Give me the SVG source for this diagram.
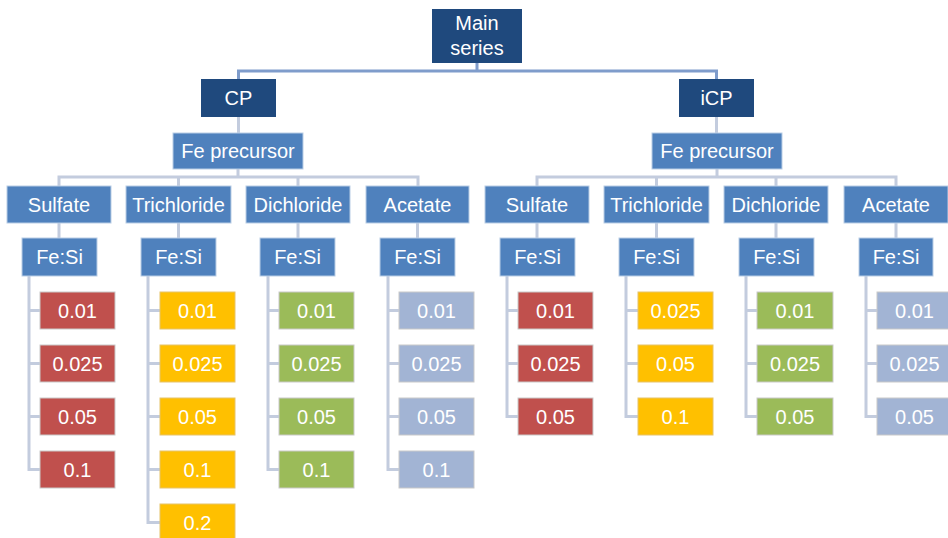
<svg xmlns="http://www.w3.org/2000/svg" width="948" height="538" viewBox="0 0 948 538">
<style>
text{font-family:"Liberation Sans",Arial,sans-serif;font-size:20px;fill:#fff;text-anchor:middle;dominant-baseline:central}
.dk{fill:#1F497D}
.md{fill:#4F81BD;stroke:#B9CDE5;stroke-width:1}
.r{fill:#C0504D;stroke:#C9C9C9;stroke-width:1}
.y{fill:#FFC000;stroke:#E6C36B;stroke-width:1}
.g{fill:#9BBB59;stroke:#C9C9C9;stroke-width:1}
.lb{fill:#A2B4D4;stroke:#C9C9C9;stroke-width:1}
.c1{fill:none;stroke:#7F9CCB;stroke-width:3}
.c2{fill:none;stroke:#C3CCDE;stroke-width:3}
</style>
<rect width="948" height="538" fill="#fff"/>
<g id="connectors">
<path class="c1" d="M477,63V71M238.5,79V71H716.5V79"/>
<path class="c2" d="M238.5,117V133M716.5,117V133"/>
<path class="c2" d="M238,169V177M59,186V177H418V186M178.5,177V186M298,177V186"/>
<path class="c2" d="M717,169V177M537,186V177H896V186M656.5,177V186M776,177V186"/>
<path class="c2" d="M59,223V238M178.5,223V238M298,223V238M417.5,223V238"/>
<path class="c2" d="M537,223V238M656.5,223V238M776,223V238M896,223V238"/>
<path class="c2" d="M29,276V469.5H40M29,310.5H40M29,363.5H40M29,416.5H40"/>
<path class="c2" d="M148,276V522.5H160M148,310.5H160M148,363.5H160M148,416.5H160M148,469.5H160"/>
<path class="c2" d="M268,276V469.5H279M268,310.5H279M268,363.5H279M268,416.5H279"/>
<path class="c2" d="M388,276V469.5H399M388,310.5H399M388,363.5H399M388,416.5H399"/>
<path class="c2" d="M507,276V416.5H518M507,310.5H518M507,363.5H518"/>
<path class="c2" d="M626,276V416.5H638M626,310.5H638M626,363.5H638"/>
<path class="c2" d="M746,276V416.5H757M746,310.5H757M746,363.5H757"/>
<path class="c2" d="M866,276V416.5H877M866,310.5H877M866,363.5H877"/>
</g>
<g id="main"><rect class="dk" x="432" y="9" width="90" height="54"/><text x="477" y="23">Main</text><text x="477" y="48">series</text></g>
<g id="cp"><rect class="dk" x="201" y="79" width="75" height="38"/><text x="238.5" y="98">CP</text></g>
<g id="icp"><rect class="dk" x="679" y="79" width="75" height="38"/><text x="716.5" y="98">iCP</text></g>
<g id="prec-cp"><rect class="md" x="173" y="133" width="130" height="36"/><text x="238" y="151">Fe precursor</text></g>
<g id="prec-icp"><rect class="md" x="652" y="133" width="130" height="36"/><text x="717" y="151">Fe precursor</text></g>
<g id="cp-sulfate"><rect class="md" x="7" y="186" width="104" height="37"/><text x="59" y="204.5">Sulfate</text></g>
<g id="cp-trichloride"><rect class="md" x="126" y="186" width="105" height="37"/><text x="178.5" y="204.5">Trichloride</text></g>
<g id="cp-dichloride"><rect class="md" x="246" y="186" width="104" height="37"/><text x="298" y="204.5">Dichloride</text></g>
<g id="cp-acetate"><rect class="md" x="366" y="186" width="103" height="37"/><text x="417.5" y="204.5">Acetate</text></g>
<g id="icp-sulfate"><rect class="md" x="485" y="186" width="104" height="37"/><text x="537" y="204.5">Sulfate</text></g>
<g id="icp-trichloride"><rect class="md" x="604" y="186" width="105" height="37"/><text x="656.5" y="204.5">Trichloride</text></g>
<g id="icp-dichloride"><rect class="md" x="724" y="186" width="104" height="37"/><text x="776" y="204.5">Dichloride</text></g>
<g id="icp-acetate"><rect class="md" x="844" y="186" width="104" height="37"/><text x="896" y="204.5">Acetate</text></g>
<g id="cp-s-fesi"><rect class="md" x="22" y="238" width="75" height="38"/><text x="59.5" y="257">Fe:Si</text></g>
<g id="cp-t-fesi"><rect class="md" x="141" y="238" width="75" height="38"/><text x="178.5" y="257">Fe:Si</text></g>
<g id="cp-d-fesi"><rect class="md" x="260" y="238" width="75" height="38"/><text x="297.5" y="257">Fe:Si</text></g>
<g id="cp-a-fesi"><rect class="md" x="380" y="238" width="75" height="38"/><text x="417.5" y="257">Fe:Si</text></g>
<g id="icp-s-fesi"><rect class="md" x="500" y="238" width="75" height="38"/><text x="537.5" y="257">Fe:Si</text></g>
<g id="icp-t-fesi"><rect class="md" x="619" y="238" width="75" height="38"/><text x="656.5" y="257">Fe:Si</text></g>
<g id="icp-d-fesi"><rect class="md" x="739" y="238" width="75" height="38"/><text x="776.5" y="257">Fe:Si</text></g>
<g id="icp-a-fesi"><rect class="md" x="859" y="238" width="74" height="38"/><text x="896" y="257">Fe:Si</text></g>
<g id="cp-s-1"><rect class="r" x="40" y="292" width="75" height="37"/><text x="77.5" y="310.5">0.01</text></g>
<g id="cp-s-2"><rect class="r" x="40" y="345" width="75" height="37"/><text x="77.5" y="363.5">0.025</text></g>
<g id="cp-s-3"><rect class="r" x="40" y="398" width="75" height="37"/><text x="77.5" y="416.5">0.05</text></g>
<g id="cp-s-4"><rect class="r" x="40" y="451" width="75" height="37"/><text x="77.5" y="469.5">0.1</text></g>
<g id="cp-t-1"><rect class="y" x="160" y="292" width="75" height="37"/><text x="197.5" y="310.5">0.01</text></g>
<g id="cp-t-2"><rect class="y" x="160" y="345" width="75" height="37"/><text x="197.5" y="363.5">0.025</text></g>
<g id="cp-t-3"><rect class="y" x="160" y="398" width="75" height="37"/><text x="197.5" y="416.5">0.05</text></g>
<g id="cp-t-4"><rect class="y" x="160" y="451" width="75" height="37"/><text x="197.5" y="469.5">0.1</text></g>
<g id="cp-t-5"><rect class="y" x="160" y="504" width="75" height="37"/><text x="197.5" y="522.5">0.2</text></g>
<g id="cp-d-1"><rect class="g" x="279" y="292" width="75" height="37"/><text x="316.5" y="310.5">0.01</text></g>
<g id="cp-d-2"><rect class="g" x="279" y="345" width="75" height="37"/><text x="316.5" y="363.5">0.025</text></g>
<g id="cp-d-3"><rect class="g" x="279" y="398" width="75" height="37"/><text x="316.5" y="416.5">0.05</text></g>
<g id="cp-d-4"><rect class="g" x="279" y="451" width="75" height="37"/><text x="316.5" y="469.5">0.1</text></g>
<g id="cp-a-1"><rect class="lb" x="399" y="292" width="75" height="37"/><text x="436.5" y="310.5">0.01</text></g>
<g id="cp-a-2"><rect class="lb" x="399" y="345" width="75" height="37"/><text x="436.5" y="363.5">0.025</text></g>
<g id="cp-a-3"><rect class="lb" x="399" y="398" width="75" height="37"/><text x="436.5" y="416.5">0.05</text></g>
<g id="cp-a-4"><rect class="lb" x="399" y="451" width="75" height="37"/><text x="436.5" y="469.5">0.1</text></g>
<g id="icp-s-1"><rect class="r" x="518" y="292" width="75" height="37"/><text x="555.5" y="310.5">0.01</text></g>
<g id="icp-s-2"><rect class="r" x="518" y="345" width="75" height="37"/><text x="555.5" y="363.5">0.025</text></g>
<g id="icp-s-3"><rect class="r" x="518" y="398" width="75" height="37"/><text x="555.5" y="416.5">0.05</text></g>
<g id="icp-t-1"><rect class="y" x="638" y="292" width="75" height="37"/><text x="675.5" y="310.5">0.025</text></g>
<g id="icp-t-2"><rect class="y" x="638" y="345" width="75" height="37"/><text x="675.5" y="363.5">0.05</text></g>
<g id="icp-t-3"><rect class="y" x="638" y="398" width="75" height="37"/><text x="675.5" y="416.5">0.1</text></g>
<g id="icp-d-1"><rect class="g" x="757" y="292" width="76" height="37"/><text x="795" y="310.5">0.01</text></g>
<g id="icp-d-2"><rect class="g" x="757" y="345" width="76" height="37"/><text x="795" y="363.5">0.025</text></g>
<g id="icp-d-3"><rect class="g" x="757" y="398" width="76" height="37"/><text x="795" y="416.5">0.05</text></g>
<g id="icp-a-1"><rect class="lb" x="877" y="292" width="75" height="37"/><text x="914.5" y="310.5">0.01</text></g>
<g id="icp-a-2"><rect class="lb" x="877" y="345" width="75" height="37"/><text x="914.5" y="363.5">0.025</text></g>
<g id="icp-a-3"><rect class="lb" x="877" y="398" width="75" height="37"/><text x="914.5" y="416.5">0.05</text></g>
</svg>
